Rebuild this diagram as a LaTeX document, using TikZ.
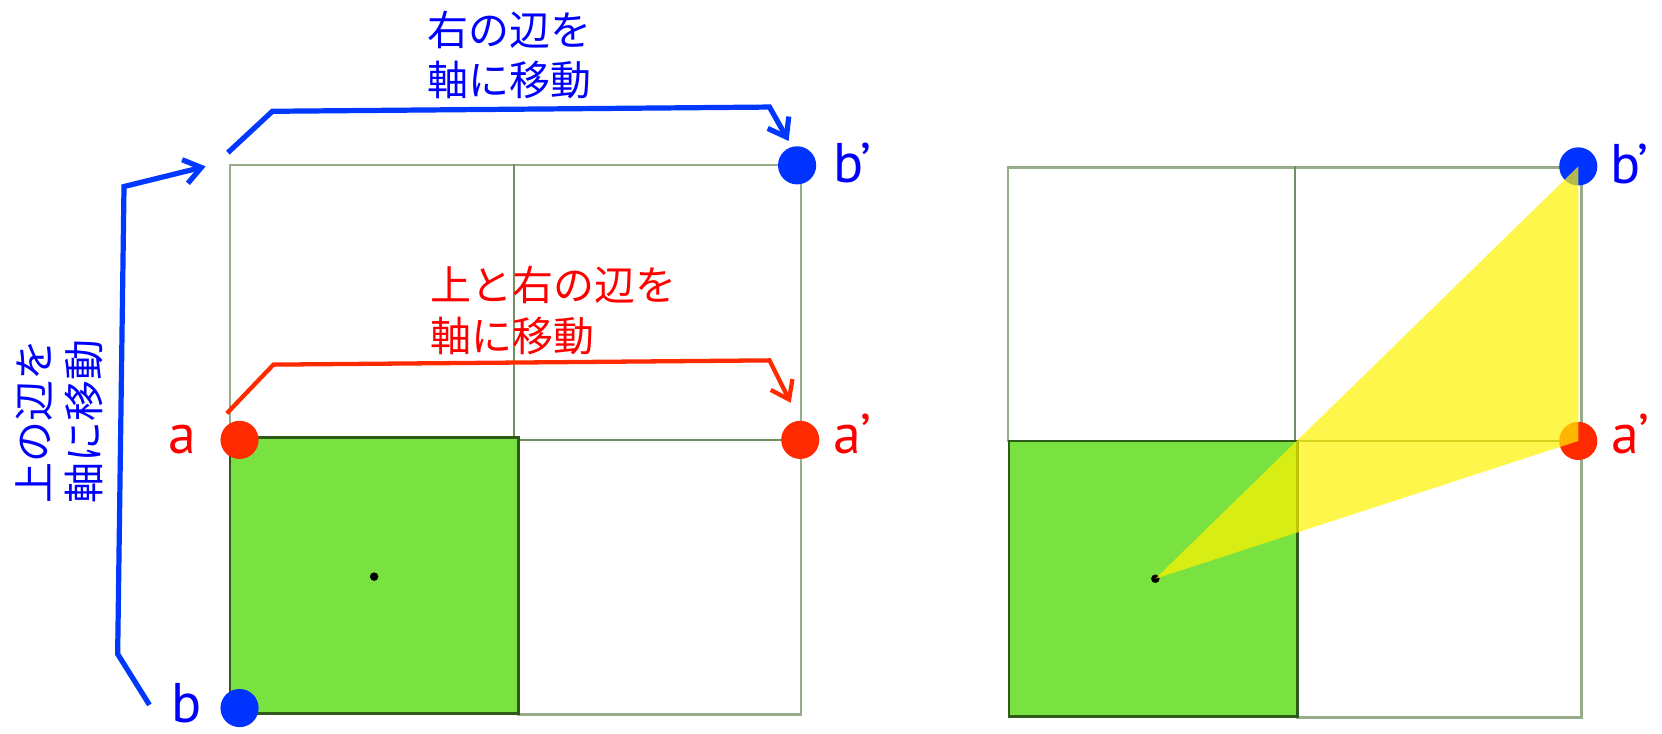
\documentclass[tikz,border=0pt]{standalone}
\usepackage{fontspec}
\setmainfont{PT Sans}
\newfontfamily\jp{Noto Sans CJK JP}
\usetikzlibrary{arrows.meta}
\definecolor{dotred}{HTML}{FF2A00}
\definecolor{dotblue}{HTML}{0033FF}
\definecolor{txtred}{HTML}{FF0000}
\definecolor{txtblue}{HTML}{0000FF}
\definecolor{arrred}{HTML}{FF2A00}
\definecolor{arrblue}{HTML}{0038FF}
\definecolor{gridc}{HTML}{5E7F4C}
\definecolor{boxgreen}{HTML}{7AE240}
\definecolor{boxedge}{HTML}{2E5A1A}
\tikzset{
  gridln/.style={draw=gridc, draw opacity=0.65, line width=1.2pt},
  greenbox/.style={fill=boxgreen, draw=boxedge, line width=1.4pt},
  dotn/.style={circle, inner sep=0pt, minimum size=0.72cm},
  cdot/.style={circle, fill=black, inner sep=0pt, minimum size=0.16cm},
  lbl/.style={font=\fontsize{30}{36}\selectfont, inner sep=0pt},
  jpt/.style={font=\jp\fontsize{22}{27}\selectfont, inner sep=0pt},
  barrow/.style={draw=arrblue, line width=2.8pt, line join=miter, -{Straight Barb[length=9pt,width=13pt]}},
  rarrow/.style={draw=arrred, line width=2.3pt, line join=miter, -{Straight Barb[length=9pt,width=13pt]}},
}
\begin{document}
\begin{tikzpicture}[x=0.02cm,y=-0.02cm]
\useasboundingbox (0,0) rectangle (1568,692);
% ---------- left panel ----------
\draw[gridln] (217,156) rectangle (485,413);
\draw[gridln] (485,156) rectangle (756,415);
\draw[gridln] (489,415) rectangle (756,674);
\draw[greenbox] (217,413) rectangle (489,673);
\node[cdot] (c1) at (353,544) {};
\node[dotn, fill=dotred] (a) at (226,415) {};
\node[dotn, fill=dotred] (ap) at (755,415) {};
\node[dotn, fill=dotblue] (b) at (226,668) {};
\node[dotn, fill=dotblue] (bp) at (752,156) {};
\node[lbl, text=txtred, anchor=base] (la) at (172,428) {a};
\node[lbl, text=txtred, anchor=base west] (lap) at (786,428) {a’};
\node[lbl, text=txtblue, anchor=base] (lb) at (176,682) {b};
\node[lbl, text=txtblue, anchor=base west] (lbp) at (786,172) {b’};
% texts
\node[jpt, text=txtblue, align=left] (tb) at (481,52) {右の辺を\\軸に移動};
\node[jpt, text=txtred, align=left, anchor=west] (tr) at (406,293) {上と右の辺を\\軸に移動};
\node[jpt, text=txtblue, align=left, rotate=90] (tv) at (56,398) {上の辺を\\軸に移動};
% arrows
\coordinate (s1) at (215,144);
\coordinate (e1) at (744,133);
\draw[barrow] (s1) -- (257,105) -- (726,101) -- (e1);
\coordinate (s2) at (141,665);
\coordinate (e2) at (194,157);
\draw[barrow] (s2) -- (111,617) -- (117,176) -- (e2);
\coordinate (s3) at (214,390);
\coordinate (e3) at (746,380);
\draw[rarrow] (s3) -- (258,344) -- (726,340) -- (e3);
% ---------- right panel ----------
\draw[gridln] (951,158) rectangle (1222,416);
\draw[gridln] (1222,158) rectangle (1492,416);
\draw[gridln] (1224,416) rectangle (1492,677);
\draw[greenbox] (952,416) rectangle (1224,676);
\node[cdot] (c2) at (1090,546) {};
\node[dotn, fill=dotblue] (bp2) at (1489,157) {};
\node[dotn, fill=dotred] (ap2) at (1489,416) {};
\fill[yellow, opacity=0.7] (c2.center) -- (bp2.center) -- (ap2.center) -- cycle;
\node[lbl, text=txtblue, anchor=base west] (lbp2) at (1519,173) {b’};
\node[lbl, text=txtred, anchor=base west] (lap2) at (1520,428) {a’};
\end{tikzpicture}
\end{document}
